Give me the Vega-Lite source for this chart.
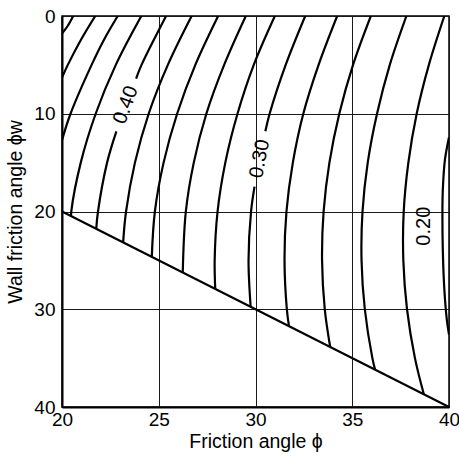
{
  "$schema": "https://vega.github.io/schema/vega-lite/v6.json",
  "autosize": {"type": "none"},
  "padding": {"left": 62, "top": 16, "right": 10, "bottom": 50},
  "width": 387,
  "height": 391,
  "background": "white",
  "config": {
    "view": {"stroke": "black", "strokeWidth": 1.5},
    "font": "Liberation Sans, DejaVu Sans",
    "axis": {
      "labelFont": "Liberation Sans, DejaVu Sans",
      "titleFont": "Liberation Sans, DejaVu Sans",
      "labelFontSize": 19,
      "titleFontSize": 19.5,
      "titleFontWeight": "normal",
      "labelColor": "black",
      "titleColor": "black",
      "ticks": false,
      "domainColor": "black",
      "domainWidth": 2,
      "gridColor": "#1a1a1a",
      "gridWidth": 1,
      "gridOpacity": 1,
      "labelFlush": false
    }
  },
  "datasets": {
    "contours": [
      {"seg": "0.48", "phi": 20.58, "d": 0}, {"seg": "0.48", "phi": 20.30, "d": 1}, {"seg": "0.48", "phi": 20.0, "d": 1.8},
      {"seg": "0.46", "phi": 21.72, "d": 0}, {"seg": "0.46", "phi": 20.96, "d": 2.5}, {"seg": "0.46", "phi": 20.30, "d": 5}, {"seg": "0.46", "phi": 20.0, "d": 6.3},
      {"seg": "0.44", "phi": 22.88, "d": 0}, {"seg": "0.44", "phi": 22.15, "d": 2.5}, {"seg": "0.44", "phi": 21.53, "d": 5}, {"seg": "0.44", "phi": 20.44, "d": 10}, {"seg": "0.44", "phi": 20.0, "d": 12.7},
      {"seg": "0.42", "phi": 24.10, "d": 0}, {"seg": "0.42", "phi": 22.78, "d": 5}, {"seg": "0.42", "phi": 21.74, "d": 10}, {"seg": "0.42", "phi": 20.97, "d": 15}, {"seg": "0.42", "phi": 20.48, "d": 20}, {"seg": "0.42", "phi": 20.47, "d": 20.47},
      {"seg": "0.40a", "phi": 25.38, "d": 0}, {"seg": "0.40a", "phi": 24.11, "d": 5}, {"seg": "0.40a", "phi": 23.83, "d": 6.4},
      {"seg": "0.40b", "phi": 22.81, "d": 11.8}, {"seg": "0.40b", "phi": 22.33, "d": 15}, {"seg": "0.40b", "phi": 21.86, "d": 20}, {"seg": "0.40b", "phi": 21.77, "d": 21.77},
      {"seg": "0.38", "phi": 26.70, "d": 0}, {"seg": "0.38", "phi": 25.47, "d": 5}, {"seg": "0.38", "phi": 24.48, "d": 10}, {"seg": "0.38", "phi": 23.77, "d": 15}, {"seg": "0.38", "phi": 23.31, "d": 20}, {"seg": "0.38", "phi": 23.16, "d": 23.16},
      {"seg": "0.36", "phi": 28.07, "d": 0}, {"seg": "0.36", "phi": 26.89, "d": 5}, {"seg": "0.36", "phi": 25.95, "d": 10}, {"seg": "0.36", "phi": 25.25, "d": 15}, {"seg": "0.36", "phi": 24.80, "d": 20}, {"seg": "0.36", "phi": 24.64, "d": 24.64},
      {"seg": "0.34", "phi": 29.50, "d": 0}, {"seg": "0.34", "phi": 28.38, "d": 5}, {"seg": "0.34", "phi": 27.46, "d": 10}, {"seg": "0.34", "phi": 26.81, "d": 15}, {"seg": "0.34", "phi": 26.40, "d": 20}, {"seg": "0.34", "phi": 26.24, "d": 26.24},
      {"seg": "0.32", "phi": 31.00, "d": 0}, {"seg": "0.32", "phi": 29.91, "d": 5}, {"seg": "0.32", "phi": 29.07, "d": 10}, {"seg": "0.32", "phi": 28.44, "d": 15}, {"seg": "0.32", "phi": 28.04, "d": 20}, {"seg": "0.32", "phi": 27.89, "d": 25}, {"seg": "0.32", "phi": 27.92, "d": 27.92},
      {"seg": "0.30a", "phi": 32.57, "d": 0}, {"seg": "0.30a", "phi": 31.56, "d": 5}, {"seg": "0.30a", "phi": 30.73, "d": 10}, {"seg": "0.30a", "phi": 30.51, "d": 11.8},
      {"seg": "0.30b", "phi": 29.95, "d": 17.45}, {"seg": "0.30b", "phi": 29.77, "d": 20}, {"seg": "0.30b", "phi": 29.64, "d": 25}, {"seg": "0.30b", "phi": 29.75, "d": 29.75},
      {"seg": "0.28", "phi": 34.22, "d": 0}, {"seg": "0.28", "phi": 33.26, "d": 5}, {"seg": "0.28", "phi": 32.47, "d": 10}, {"seg": "0.28", "phi": 31.93, "d": 15}, {"seg": "0.28", "phi": 31.60, "d": 20}, {"seg": "0.28", "phi": 31.50, "d": 25}, {"seg": "0.28", "phi": 31.62, "d": 30}, {"seg": "0.28", "phi": 31.73, "d": 31.73},
      {"seg": "0.26", "phi": 35.96, "d": 0}, {"seg": "0.26", "phi": 35.04, "d": 5}, {"seg": "0.26", "phi": 34.33, "d": 10}, {"seg": "0.26", "phi": 33.82, "d": 15}, {"seg": "0.26", "phi": 33.52, "d": 20}, {"seg": "0.26", "phi": 33.44, "d": 25}, {"seg": "0.26", "phi": 33.58, "d": 30}, {"seg": "0.26", "phi": 33.86, "d": 33.86},
      {"seg": "0.24", "phi": 37.80, "d": 0}, {"seg": "0.24", "phi": 36.94, "d": 5}, {"seg": "0.24", "phi": 36.28, "d": 10}, {"seg": "0.24", "phi": 35.80, "d": 15}, {"seg": "0.24", "phi": 35.53, "d": 20}, {"seg": "0.24", "phi": 35.48, "d": 25}, {"seg": "0.24", "phi": 35.65, "d": 30}, {"seg": "0.24", "phi": 36.04, "d": 35}, {"seg": "0.24", "phi": 36.18, "d": 36.18},
      {"seg": "0.22", "phi": 39.76, "d": 0}, {"seg": "0.22", "phi": 38.96, "d": 5}, {"seg": "0.22", "phi": 38.33, "d": 10}, {"seg": "0.22", "phi": 37.90, "d": 15}, {"seg": "0.22", "phi": 37.66, "d": 20}, {"seg": "0.22", "phi": 37.64, "d": 25}, {"seg": "0.22", "phi": 37.83, "d": 30}, {"seg": "0.22", "phi": 38.24, "d": 35}, {"seg": "0.22", "phi": 38.70, "d": 38.70},
      {"seg": "0.20", "phi": 40.0, "d": 12.4}, {"seg": "0.20", "phi": 39.79, "d": 14.7}, {"seg": "0.20", "phi": 39.68, "d": 17.8}, {"seg": "0.20", "phi": 39.66, "d": 20.3}, {"seg": "0.20", "phi": 39.68, "d": 23.9}, {"seg": "0.20", "phi": 39.76, "d": 28.0}, {"seg": "0.20", "phi": 39.89, "d": 31.1}, {"seg": "0.20", "phi": 40.0, "d": 32.6},
      {"seg": "limit", "phi": 20, "d": 20}, {"seg": "limit", "phi": 40, "d": 40}
    ],
    "labels": [
      {"t": "0.40", "phi": 23.3, "d": 9.1},
      {"t": "0.30", "phi": 30.22, "d": 14.6},
      {"t": "0.20", "phi": 38.72, "d": 21.5}
    ]
  },
  "encoding": {
    "x": {
      "field": "phi", "type": "quantitative",
      "scale": {"domain": [20, 40], "nice": false, "zero": false},
      "axis": {"values": [20, 25, 30, 35, 40], "grid": true, "labelPadding": 3, "title": "Friction angle ϕ", "titlePadding": 3}
    },
    "y": {
      "field": "d", "type": "quantitative",
      "scale": {"domain": [0, 40], "nice": false, "zero": false, "reverse": true},
      "axis": {"values": [0, 10, 20, 30, 40], "grid": true, "labelPadding": 7, "title": "Wall friction angle ϕw", "titlePadding": 8}
    }
  },
  "layer": [
    {
      "data": {"name": "contours"},
      "mark": {"type": "line", "color": "black", "strokeWidth": 2.2, "interpolate": "catmull-rom", "clip": true},
      "encoding": {
        "detail": {"field": "seg", "type": "nominal"},
        "order": {"field": "d", "type": "quantitative"}
      }
    },
    {
      "data": {"name": "labels"},
      "transform": [{"filter": "datum.t == '0.40'"}],
      "mark": {"type": "text", "angle": -70, "fontSize": 20, "color": "black", "align": "center", "baseline": "middle"},
      "encoding": {"text": {"field": "t", "type": "nominal"}}
    },
    {
      "data": {"name": "labels"},
      "transform": [{"filter": "datum.t == '0.30'"}],
      "mark": {"type": "text", "angle": -79, "fontSize": 20, "color": "black", "align": "center", "baseline": "middle"},
      "encoding": {"text": {"field": "t", "type": "nominal"}}
    },
    {
      "data": {"name": "labels"},
      "transform": [{"filter": "datum.t == '0.20'"}],
      "mark": {"type": "text", "angle": -90, "fontSize": 20, "color": "black", "align": "center", "baseline": "middle"},
      "encoding": {"text": {"field": "t", "type": "nominal"}}
    }
  ]
}
